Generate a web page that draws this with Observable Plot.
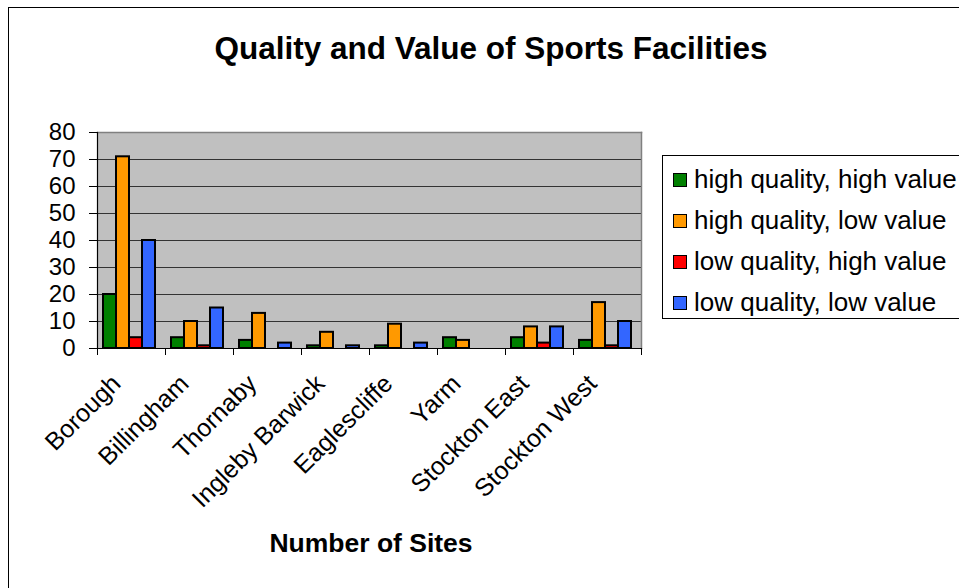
<!DOCTYPE html>
<html><head><meta charset="utf-8">
<script src="https://cdn.jsdelivr.net/npm/d3@7"></script>
<script src="https://cdn.jsdelivr.net/npm/@observablehq/plot@0.6"></script>
<style>
html,body{margin:0;padding:0;}
body{width:959px;height:588px;overflow:hidden;background:#fff;position:relative;font-family:"Liberation Sans",Arial,sans-serif;}
#border{position:absolute;left:8px;top:7px;width:1100px;height:800px;border:1.5px solid #000;}
#chart{position:absolute;left:0;top:0;}
#title{position:absolute;left:0;top:30px;width:982px;text-align:center;font-weight:bold;font-size:31.5px;color:#000;}
#xtitle{position:absolute;left:171px;top:528px;width:400px;text-align:center;font-weight:bold;font-size:26.5px;color:#000;}
#legend{position:absolute;left:662px;top:155px;width:400px;height:162px;border:1px solid #000;background:#fff;}
.item{position:absolute;left:10px;height:30px;font-size:26px;line-height:30px;white-space:nowrap;color:#000;}
.sw{display:inline-block;width:12px;height:12px;border:1.5px solid #000;margin-right:7px;vertical-align:middle;position:relative;top:-1px;}
</style></head>
<body>
<div id="border"></div>
<div id="title">Quality and Value of Sports Facilities</div>
<div id="chart"></div>
<div id="xtitle">Number of Sites</div>
<div id="legend"></div>
<script>
const sites = ["Borough","Billingham","Thornaby","Ingleby Barwick","Eaglescliffe","Yarm","Stockton East","Stockton West"];
const seriesNames = ["high quality, high value","high quality, low value","low quality, high value","low quality, low value"];
const highHigh = [20, 4, 3, 1, 1, 4, 4, 3];
const highLow  = [71, 10, 13, 6, 9, 3, 8, 17];
const lowHigh  = [4, 1, 0, 0, 0, 0, 2, 1];
const lowLow   = [40, 15, 2, 1, 2, 0, 8, 10];
const yTicks = [0,10,20,30,40,50,60,70,80];
const colors = ["#008000","#FF9900","#FF0000","#3366FF"];

const valueSets = [highHigh, highLow, lowHigh, lowLow];
const rows = [];
sites.forEach((s, i) => seriesNames.forEach((n, j) => rows.push({site: s, series: n, value: valueSets[j][i]})));

const fontFamily = '"Liberation Sans", Arial, sans-serif';
const chart = Plot.plot({
  width: 959, height: 588,
  marginLeft: 97, marginRight: 318, marginTop: 132, marginBottom: 240,
  style: {background: "transparent", fontFamily, color: "#000", overflow: "visible"},
  fx: {domain: sites, paddingInner: 0, paddingOuter: 0},
  x: {domain: seriesNames, paddingInner: 0, paddingOuter: 0.6, align: 0.4, axis: null},
  y: {domain: [0, 80], axis: null},
  color: {domain: seriesNames, range: colors},
  marks: [
    Plot.frame({facet: "super", fill: "#C0C0C0", stroke: "none"}),
    Plot.gridY(yTicks, {stroke: "#333", strokeOpacity: 1, strokeWidth: 1}),
    Plot.frame({facet: "super", anchor: "top", stroke: "#808080", strokeWidth: 1.5}),
    Plot.frame({facet: "super", anchor: "right", stroke: "#808080", strokeWidth: 1.5}),
    Plot.barY(rows, {fx: "site", x: "series", y: "value", fill: "series", stroke: "#000", strokeWidth: 2, inset: 0}),
    Plot.frame({facet: "super", anchor: "bottom", stroke: "#000", strokeWidth: 1.2}),
    Plot.frame({facet: "super", anchor: "left", stroke: "#000", strokeWidth: 1.2}),
    Plot.axisY(yTicks, {anchor: "left", tickSize: 8, tickPadding: 14, fontSize: 24, label: null, stroke: "#000"}),
    Plot.axisFx({anchor: "bottom", tickSize: 7, tickFormat: () => "", dx: -34, label: null, stroke: "#000"}),
    Plot.axisFx([sites[sites.length - 1]], {anchor: "bottom", tickSize: 7, tickFormat: () => "", dx: 34, label: null, stroke: "#000"}),
    Plot.axisFx({anchor: "bottom", tickSize: 0, tickRotate: -45, tickPadding: 31, dx: -15, fontSize: 25, label: null})
  ]
});
document.getElementById("chart").appendChild(chart);

const legend = document.getElementById("legend");
seriesNames.forEach((n, i) => {
  const d = document.createElement("div");
  d.className = "item";
  d.style.top = (8 + i * 41) + "px";
  const sw = document.createElement("span");
  sw.className = "sw";
  sw.style.background = colors[i];
  d.appendChild(sw);
  d.appendChild(document.createTextNode(n));
  legend.appendChild(d);
});
</script>
</body></html>
